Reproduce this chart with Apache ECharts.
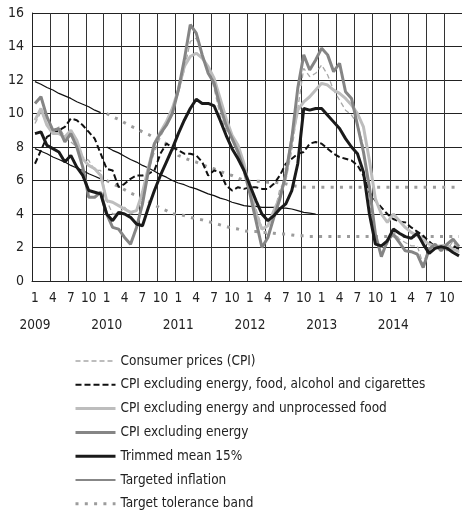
<!DOCTYPE html>
<html>
<head>
<meta charset="utf-8">
<script src="https://cdn.jsdelivr.net/npm/echarts@6/dist/echarts.min.js"></script>
<style>
  html, body { margin: 0; padding: 0; background: #fff; }
  #chart { width: 462px; height: 515px; }
</style>
</head>
<body>
<div id="chart"></div>
<script>
// years and month ticks
var years = ["2009", "2010", "2011", "2012", "2013", "2014"];
var monthNames = ["1", "2", "3", "4", "5", "6", "7", "8", "9", "10", "11", "12"];

// y/y rates, Jan 2009 - Dec 2014
var cpi = [
  9.4, 10.1, 9.4, 8.9, 9.2, 8.6, 8.3, 8.0, 7.4, 7.2, 6.6, 6.6,
  4.8, 4.0, 4.0, 4.4, 4.0, 4.2, 4.8, 6.6, 7.7, 8.6, 9.3, 10.3,
  11.2, 12.6, 14.3, 14.5, 13.4, 12.7, 11.5, 9.9, 9.0, 8.7, 7.9, 7.0,
  5.6, 4.3, 3.2, 2.7, 3.9, 5.5, 6.0, 7.8, 10.3, 12.7, 12.2, 12.4,
  12.9, 12.3, 11.4, 10.8, 10.2, 9.9, 9.4, 8.0, 4.9, 2.2, 2.0, 2.2,
  3.0, 2.5, 2.3, 2.1, 2.1, 1.0, 2.1, 2.1, 2.1, 1.8, 2.4, 1.7
];
var cpiCore = [
  7.0, 7.8, 8.6, 8.8, 9.0, 9.2, 9.7, 9.6, 9.3, 8.9, 8.5, 7.6,
  6.7, 6.6, 5.6, 5.8, 6.1, 6.3, 6.3, 6.4, 6.6, 7.6, 8.2, 8.0,
  7.8, 7.6, 7.6, 7.5, 7.1, 6.3, 6.6, 6.5, 5.7, 5.4, 5.6, 5.5,
  5.6, 5.6, 5.5, 5.5, 5.8, 6.3, 7.0, 7.3, 7.6, 7.7, 8.2, 8.3,
  8.2, 7.9, 7.6, 7.4, 7.3, 7.2, 6.9, 6.3, 5.3, 4.8, 4.4, 4.0,
  3.7, 3.55, 3.5, 3.2, 2.95, 2.7, 2.35, 2.05, 1.95, 2.0, 2.1, 1.9
];
var cpiExUnprocessed = [
  9.6, 10.3, 9.3, 8.8, 8.8, 8.6, 9.0, 8.4, 7.3, 6.9, 6.7, 6.3,
  4.8, 4.7, 4.5, 4.3, 4.1, 4.2, 5.3, 6.8, 8.2, 8.9, 9.5, 10.3,
  11.4, 12.8, 13.4, 13.6, 13.3, 12.8, 12.1, 10.9, 9.7, 8.7, 8.1, 7.0,
  5.4, 4.0, 3.1, 3.3, 4.2, 5.0, 6.3, 8.5, 10.2, 10.7, 11.0, 11.4,
  11.8, 11.7, 11.4, 11.2, 10.9, 10.5, 10.0, 9.2, 7.2, 4.9, 4.0, 3.5,
  4.0, 3.6, 3.2, 2.9, 2.7, 2.45, 2.2, 2.05, 2.1, 2.15, 1.9, 1.75
];
var cpiExEnergy = [
  10.6, 11.0, 9.8, 9.0, 9.1, 8.3, 8.8, 8.0, 6.8, 5.0, 5.0, 5.3,
  4.0, 3.2, 3.1, 2.6, 2.2, 3.2, 4.6, 6.6, 8.2, 8.8, 9.3, 10.0,
  11.4, 13.2, 15.3, 14.8, 13.5, 12.4, 11.8, 10.4, 9.3, 8.5, 7.7, 6.6,
  5.2, 3.6, 2.0, 2.6, 3.8, 4.9, 6.4, 8.5, 11.5, 13.5, 12.6, 13.2,
  13.9, 13.5, 12.5, 13.0, 11.3, 10.9, 9.3, 7.7, 5.6, 2.8, 1.45, 2.4,
  2.8, 2.3, 1.8, 1.75, 1.6, 0.8, 1.9, 2.2, 1.8, 2.2, 2.5, 2.05
];
var trimmedMean = [
  8.8, 8.9, 8.1, 7.9, 7.7, 7.1, 7.5, 6.8, 6.3, 5.4, 5.3, 5.2,
  4.0, 3.6, 4.1, 4.0, 3.8, 3.4, 3.3, 4.4, 5.4, 6.3, 7.1, 7.9,
  8.8, 9.6, 10.3, 10.85, 10.6, 10.6, 10.45, 9.6, 8.7, 7.9, 7.3, 6.6,
  5.7, 4.8, 4.0, 3.6, 3.9, 4.3, 4.6, 5.4, 7.0, 10.3, 10.2, 10.3,
  10.3, 9.9, 9.5, 9.1, 8.5, 8.0, 7.6, 6.5, 4.0, 2.2, 2.1, 2.4,
  3.1, 2.85, 2.65, 2.55, 2.85, 2.2, 1.65, 1.95, 2.05, 1.95, 1.7, 1.5
];

// 2009 corridor lines, then the target path 2010-2012
var target2009Upper = [11.9, 11.75, 11.55, 11.4, 11.2, 11.05, 10.9, 10.7, 10.55, 10.4, 10.2, 10.05];
var target2009Lower = [7.9, 7.75, 7.6, 7.4, 7.25, 7.1, 6.9, 6.75, 6.6, 6.4, 6.25, 6.1];
var targetPath = [
  8.0, 7.8, 7.65, 7.45, 7.25, 7.1, 6.9, 6.75, 6.55, 6.35, 6.2, 6.0,
  5.85, 5.75, 5.6, 5.5, 5.35, 5.2, 5.1, 4.95, 4.85, 4.7, 4.6, 4.5,
  4.45, 4.45, 4.4, 4.4, 4.4, 4.35, 4.35, 4.3, 4.2, 4.1, 4.05, 4.0
];
var bandUpper = [
  10.0, 9.8, 9.65, 9.45, 9.25, 9.1, 8.9, 8.75, 8.55, 8.35, 8.2, 8.0,
  7.5, 7.35, 7.2, 7.1, 6.95, 6.8, 6.7, 6.55, 6.4, 6.3, 6.15, 6.0,
  5.95, 5.95, 5.95, 5.9, 5.9, 5.85, 5.8, 5.7, 5.65, 5.6, 5.6, 5.6,
  5.6, 5.6, 5.6, 5.6, 5.6, 5.6, 5.6, 5.6, 5.6, 5.6, 5.6, 5.6,
  5.6, 5.6, 5.6, 5.6, 5.6, 5.6, 5.6, 5.6, 5.6, 5.6, 5.6, 5.6
];
var bandLower = [
  6.0, 5.8, 5.65, 5.45, 5.25, 5.1, 4.9, 4.75, 4.55, 4.35, 4.2, 4.0,
  4.0, 3.9, 3.8, 3.7, 3.65, 3.55, 3.45, 3.35, 3.25, 3.15, 3.1, 3.0,
  2.95, 2.95, 2.9, 2.9, 2.85, 2.8, 2.8, 2.75, 2.7, 2.7, 2.65, 2.65,
  2.65, 2.65, 2.65, 2.65, 2.65, 2.65, 2.65, 2.65, 2.65, 2.65, 2.65, 2.65,
  2.65, 2.65, 2.65, 2.65, 2.65, 2.65, 2.65, 2.65, 2.65, 2.65, 2.65, 2.65
];

var yTicks = [0, 2, 4, 6, 8, 10, 12, 14, 16];

(function() {
  var myChart = echarts.init(document.getElementById("chart"));
  var font = "'Liberation Sans Narrow', 'DejaVu Sans Condensed', sans-serif";

  // category per month, e.g. "2009-1"
  var categories = [];
  years.forEach(function(y) {
    monthNames.forEach(function(m) {
      categories.push(y + "-" + m);
    });
  });

  // pad partial series with nulls so they sit on the right months
  function place(values, start) {
    var out = [];
    for (var i = 0; i < categories.length; i++) {
      var k = i - start;
      out.push(k >= 0 && k < values.length ? values[k] : null);
    }
    return out;
  }

  // line styles: [name, color, width, dash]
  var styles = [
    ["Consumer prices (CPI)", "#a8a8a8", 1.3, [5, 3]],
    ["CPI excluding energy, food, alcohol and cigarettes", "#111", 2, [6, 3]],
    ["CPI excluding energy and unprocessed food", "#bdbdbd", 3, "solid"],
    ["CPI excluding energy", "#858585", 3, "solid"],
    ["Trimmed mean 15%", "#1a1a1a", 3, "solid"],
    ["Targeted inflation", "#111", 1.2, "solid"],
    ["Target tolerance band", "#9c9c9c", 3, [3, 6.3]]
  ];

  function line(k, data, z) {
    var s = styles[k];
    return {
      name: s[0],
      type: "line",
      data: data,
      symbol: "none",
      z: z,
      silent: true,
      lineStyle: { color: s[1], width: s[2], type: s[3] },
      itemStyle: { color: s[1] }
    };
  }

  var option = {
    animation: false,
    textStyle: { fontFamily: font },
    grid: { left: 32, top: 13, width: 432, height: 268 },
    legend: {
      data: styles.map(function(s) {
        return { name: s[0], lineStyle: { width: s[2], type: s[3], color: s[1] } };
      }),
      orient: "vertical",
      left: 74,
      top: 354,
      padding: 0,
      itemWidth: 40,
      itemHeight: 14,
      itemGap: 9.8,
      selectedMode: false,
      itemStyle: { opacity: 0 },
      textStyle: { fontFamily: font, fontSize: 13.5, color: "#222", lineHeight: 14 }
    },
    xAxis: [
      {
        type: "category",
        data: categories,
        boundaryGap: true,
        axisLine: { lineStyle: { color: "#222", width: 1 } },
        axisTick: { show: false },
        axisLabel: {
          interval: 2,
          margin: 10,
          color: "#222",
          fontFamily: font,
          fontSize: 13.5,
          formatter: function(v) { return v.split("-")[1]; }
        },
        splitLine: { show: true, interval: 2, lineStyle: { color: "#333", width: 1 } }
      },
      {
        type: "category",
        data: categories,
        position: "bottom",
        boundaryGap: true,
        axisLine: { show: false },
        axisTick: { show: false },
        splitLine: { show: false },
        axisLabel: {
          interval: function(i) { return i % 12 === 0; },
          margin: 37,
          color: "#222",
          fontFamily: font,
          fontSize: 13.5,
          formatter: function(v) { return v.split("-")[0]; }
        }
      }
    ],
    yAxis: {
      type: "value",
      min: yTicks[0],
      max: yTicks[yTicks.length - 1],
      interval: 2,
      axisLine: { show: true, lineStyle: { color: "#222", width: 1 } },
      axisTick: { show: false },
      axisLabel: { margin: 8, color: "#222", fontFamily: font, fontSize: 14 },
      splitLine: { lineStyle: { color: "#222", width: 1 } }
    },
    series: [
      line(6, place(bandUpper, 12), 2),
      line(6, place(bandLower, 12), 2),
      line(5, place(target2009Upper, 0), 3),
      line(5, place(target2009Lower, 0), 3),
      line(5, place(targetPath, 12), 3),
      line(0, cpi, 4),
      line(1, cpiCore, 5),
      line(2, cpiExUnprocessed, 6),
      line(3, cpiExEnergy, 7),
      line(4, trimmedMean, 8)
    ]
  };

  myChart.setOption(option);
  window.addEventListener("resize", function() {
    myChart.resize();
  });
})();
</script>
</body>
</html>
